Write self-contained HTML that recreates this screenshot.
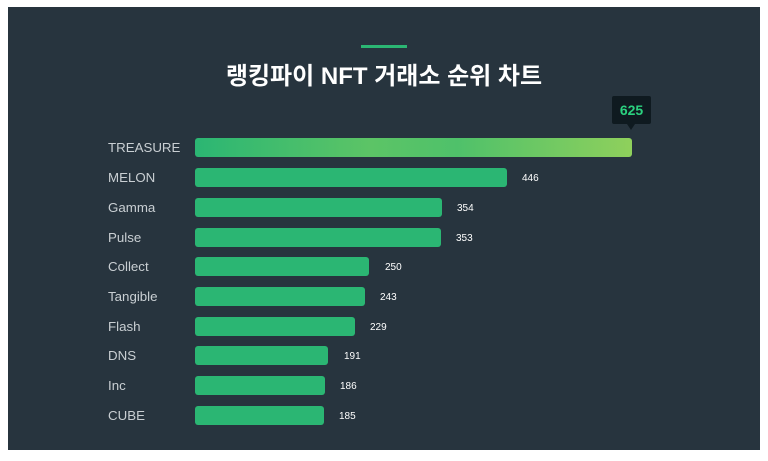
<!DOCTYPE html><html><head><style>
body{margin:0;width:768px;height:461px;background:#fff;position:relative;overflow:hidden;font-family:"Liberation Sans","Noto Sans CJK KR",sans-serif}
#p{position:absolute;left:8px;top:7px;width:752px;height:443px;background:#27343e}
.l{position:absolute;left:108px;color:#c9cfd3;font-size:13.3px;line-height:20px}
.b{position:absolute;left:195px;height:19px;border-radius:3px;background:#2bb673}
.v{position:absolute;color:#fff;font-size:10px;line-height:20px;margin-top:1px}
</style></head><body><div id="p"></div>
<div style="position:absolute;left:361px;top:45px;width:46px;height:3px;background:#2bb673"></div>
<div style="position:absolute;left:0;width:768px;top:60px;text-align:center;color:#fff;font-size:24px;font-weight:bold;line-height:34px">랭킹파이 NFT 거래소 순위 차트</div>
<div style="position:absolute;left:612px;top:96px;width:39px;height:28px;background:#0f1a20;border-radius:2px;color:#2bd17f;font-weight:bold;font-size:14px;line-height:28px;text-align:center">625</div>
<div style="position:absolute;left:627px;top:124px;border-left:4px solid transparent;border-right:4px solid transparent;border-top:6px solid #0f1a20"></div>
<div class="l" style="top:138px">TREASURE</div><div class="b" style="top:138px;width:437px;background:linear-gradient(90deg,#2bb673,#5cc466 40%,#4fc16a 60%,#8fd05c)"></div>
<div class="l" style="top:168px">MELON</div><div class="b" style="top:168px;width:312px"></div><div class="v" style="top:168px;left:522px">446</div>
<div class="l" style="top:198px">Gamma</div><div class="b" style="top:198px;width:247px"></div><div class="v" style="top:198px;left:457px">354</div>
<div class="l" style="top:228px">Pulse</div><div class="b" style="top:228px;width:246px"></div><div class="v" style="top:228px;left:456px">353</div>
<div class="l" style="top:257px">Collect</div><div class="b" style="top:257px;width:174px"></div><div class="v" style="top:257px;left:385px">250</div>
<div class="l" style="top:287px">Tangible</div><div class="b" style="top:287px;width:170px"></div><div class="v" style="top:287px;left:380px">243</div>
<div class="l" style="top:317px">Flash</div><div class="b" style="top:317px;width:160px"></div><div class="v" style="top:317px;left:370px">229</div>
<div class="l" style="top:346px">DNS</div><div class="b" style="top:346px;width:133px"></div><div class="v" style="top:346px;left:344px">191</div>
<div class="l" style="top:376px">Inc</div><div class="b" style="top:376px;width:130px"></div><div class="v" style="top:376px;left:340px">186</div>
<div class="l" style="top:406px">CUBE</div><div class="b" style="top:406px;width:129px"></div><div class="v" style="top:406px;left:339px">185</div>
</body></html>
